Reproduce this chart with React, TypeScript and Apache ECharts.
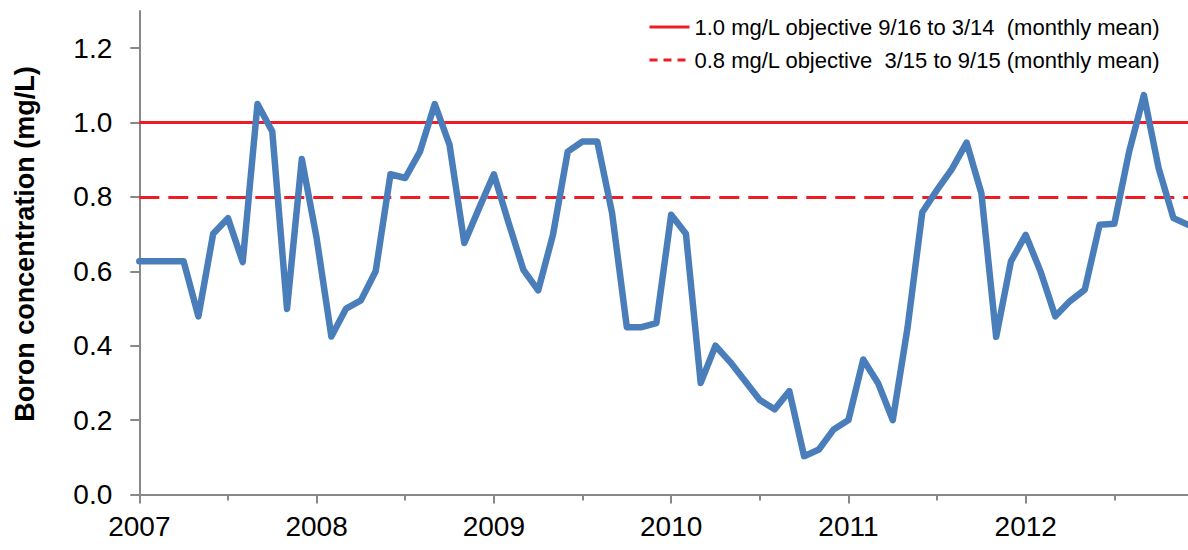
import React, { useEffect, useRef } from "react";
import * as echarts from "echarts";

// Monthly boron concentration, Jan 2007 .. Dec 2012 (mg/L)
const boron: number[] = [
  0.627, 0.627, 0.627, 0.627, 0.479, 0.701, 0.743, 0.625, 1.05, 0.976, 0.499, 0.902,
  0.69, 0.425, 0.5, 0.522, 0.6, 0.861, 0.851, 0.922, 1.05, 0.94, 0.676, 0.77,
  0.861, 0.73, 0.604, 0.549, 0.698, 0.922, 0.949, 0.949, 0.757, 0.45, 0.45, 0.461,
  0.752, 0.701, 0.3, 0.4, 0.356, 0.305, 0.254, 0.229, 0.278, 0.103, 0.121, 0.175,
  0.2, 0.363, 0.3, 0.2, 0.448, 0.759, 0.819, 0.875, 0.946, 0.81, 0.424, 0.627,
  0.698, 0.6, 0.479, 0.52, 0.551, 0.725, 0.728, 0.922, 1.074, 0.877, 0.743, 0.725,
];
const startYear = 2007;
const years: number[] = [2007, 2008, 2009, 2010, 2011, 2012];
const yTicks: number[] = [0, 0.2, 0.4, 0.6, 0.8, 1.0, 1.2];
const objectiveNames: string[] = [
  "1.0 mg/L objective 9/16 to 3/14  (monthly mean)",
  "0.8 mg/L objective  3/15 to 9/15 (monthly mean)",
];
const objectiveValues: number[] = [1.0, 0.8];

const FONT = '"Liberation Sans", Arial, sans-serif';
const AXIS = "#888888";
const RED = "#EE1C25";
const BLUE = "#4A7EBB";

export default function App() {
  const ref = useRef<HTMLDivElement>(null);
  useEffect(() => {
    if (!ref.current) return;
    const chart = echarts.init(ref.current, undefined, { renderer: "svg" });
    const seriesData = boron.map((v, i) => [i, v]);
    const option: any = {
      animation: false,
      backgroundColor: "#ffffff",
      grid: { left: 139.3, right: 0, top: 11, bottom: 55.5, containLabel: false },
      legend: {
        orient: "vertical",
        left: 648,
        top: 16,
        padding: 0,
        itemWidth: 40,
        itemHeight: 22,
        itemGap: 11,
        itemStyle: { opacity: 0 },
        lineStyle: { width: 3 },
        textStyle: { fontSize: 22, color: "#000", fontFamily: FONT },
        data: [
          { name: objectiveNames[0] },
          { name: objectiveNames[1], lineStyle: { width: 3, type: [8, 6] } },
        ],
        selectedMode: false,
      },
      xAxis: {
        type: "value",
        min: 0,
        max: 72,
        interval: 12,
        axisLine: { show: true, lineStyle: { color: AXIS, width: 2 } },
        axisTick: { show: true, length: 9, lineStyle: { color: AXIS, width: 2 } },
        minorTick: { show: true, splitNumber: 2, length: 6, lineStyle: { color: AXIS, width: 2 } },
        axisLabel: {
          customValues: years.map((y) => (y - startYear) * 12),
          formatter: (v: number) => String(startYear + Math.round(v / 12)),
          fontSize: 28,
          color: "#000",
          fontFamily: FONT,
          margin: 18,
        },
        splitLine: { show: false },
        minorSplitLine: { show: false },
      },
      yAxis: {
        type: "value",
        min: 0,
        max: 1.3,
        interval: 0.2,
        axisLine: { show: true, lineStyle: { color: AXIS, width: 2 } },
        axisTick: { show: true, length: 9, customValues: yTicks, lineStyle: { color: AXIS, width: 2 } },
        axisLabel: {
          customValues: yTicks,
          formatter: (v: number) => v.toFixed(1),
          fontSize: 28,
          color: "#000",
          fontFamily: FONT,
          margin: 27,
        },
        splitLine: { show: false },
      },
      graphic: [
        {
          type: "text",
          x: 25,
          y: 244,
          rotation: Math.PI / 2,
          style: {
            text: "Boron concentration (mg/L)",
            font: `bold 27px ${FONT}`,
            fill: "#000",
            align: "center",
            verticalAlign: "middle",
          },
        },
      ],
      series: [
        {
          name: objectiveNames[0],
          type: "line",
          data: [],
          color: RED,
          symbol: "none",
          lineStyle: { color: RED, width: 3, type: "solid" },
          markLine: {
            silent: true,
            symbol: ["none", "none"],
            label: { show: false },
            lineStyle: { color: RED, width: 3, type: "solid" },
            data: [{ yAxis: objectiveValues[0] }],
          },
        },
        {
          name: objectiveNames[1],
          type: "line",
          data: [],
          color: RED,
          symbol: "none",
          lineStyle: { color: RED, width: 3, type: [20, 9] },
          markLine: {
            silent: true,
            symbol: ["none", "none"],
            label: { show: false },
            lineStyle: { color: RED, width: 3, type: [20, 9] },
            data: [{ yAxis: objectiveValues[1] }],
          },
        },
        {
          name: "Boron",
          type: "line",
          data: seriesData,
          symbol: "none",
          color: BLUE,
          lineStyle: { color: BLUE, width: 6.5, cap: "round", join: "round" },
          z: 5,
        },
      ],
    };
    chart.setOption(option);
    return () => chart.dispose();
  }, []);
  return (
    <div
      style={{ position: "fixed", left: 0, top: 0, width: 1188, height: 550, overflow: "hidden" }}
    >
      <div ref={ref} style={{ width: 1203, height: 550 }} />
    </div>
  );
}
